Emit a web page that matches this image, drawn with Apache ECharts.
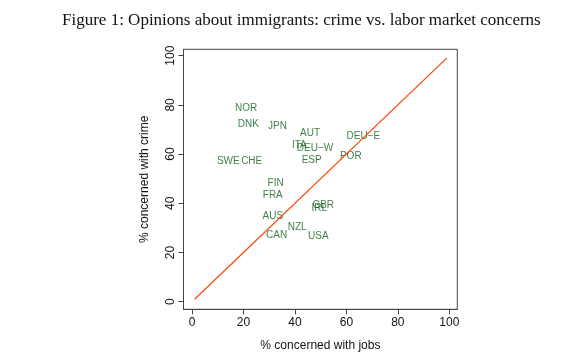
<!DOCTYPE html>
<html>
<head>
<meta charset="utf-8">
<script src="https://cdn.jsdelivr.net/npm/echarts@6/dist/echarts.min.js"></script>
<style>
html,body{margin:0;padding:0;background:#fff;}
#chart{width:568px;height:360px;}
</style>
</head>
<body>
<div id="chart"></div>
<script>
var countries = ["NOR","DNK","JPN","AUT","ITA","DEU\u2212W","DEU\u2212E","POR","ESP","SWE","CHE","FIN","FRA","GBR","IRL","AUS","NZL","CAN","USA"];
var jobs  = [21.0, 21.9, 33.2, 45.9, 41.7, 47.8, 66.6, 61.7, 46.5, 14.1, 23.2, 32.5, 31.4, 51.0, 49.5, 31.4, 40.9, 32.9, 49.1];
var crime = [78.6, 72.2, 71.4, 68.5, 63.7, 62.2, 67.1, 59.1, 57.3, 56.9, 57.2, 48.1, 43.4, 39.4, 38.0, 34.6, 30.1, 27.1, 26.7];
var diagX = [1, 99];
var diagY = [1, 99];
var ticks = [0, 20, 40, 60, 80, 100];
var titleText = "Figure 1: Opinions about immigrants: crime vs. labor market concerns";
var xName = "% concerned with jobs";
var yName = "% concerned with crime";

var pts = countries.map(function(c, i){ return {value:[jobs[i], crime[i]], name:c}; });
var diag = diagX.map(function(x, i){ return [x, diagY[i]]; });

var chart = echarts.init(document.getElementById('chart'), null, {renderer:'canvas'});
chart.setOption({
  animation:false,
  backgroundColor:'#fff',
  title:{
    text:titleText, left:57, top:7,
    textStyle:{fontFamily:'Liberation Serif', fontSize:17, fontWeight:'normal', color:'#111'}
  },
  grid:{left:183.5, right:110.7, top:49.3, bottom:50.7, show:true, borderColor:'#444', borderWidth:1, backgroundColor:'#fff'},
  xAxis:{
    type:'value', min:-3.3, max:103.1,
    name:xName, nameLocation:'middle', nameGap:30,
    nameTextStyle:{fontFamily:'Liberation Sans', fontSize:12, color:'#111'},
    axisLine:{show:true, onZero:false, lineStyle:{color:'#444', width:1}},
    axisTick:{show:true, length:5, customValues:ticks, lineStyle:{color:'#444'}},
    axisLabel:{customValues:ticks, margin:7, fontFamily:'Liberation Sans', fontSize:12, color:'#111'},
    splitLine:{show:false}
  },
  yAxis:{
    type:'value', min:-3.1, max:102.6,
    name:yName, nameLocation:'middle', nameGap:33,
    nameTextStyle:{fontFamily:'Liberation Sans', fontSize:12, color:'#111'},
    axisLine:{show:true, onZero:false, lineStyle:{color:'#444', width:1}},
    axisTick:{show:true, length:5, customValues:ticks, lineStyle:{color:'#444'}},
    axisLabel:{customValues:ticks, rotate:90, margin:7, fontFamily:'Liberation Sans', fontSize:12, color:'#111'},
    splitLine:{show:false}
  },
  series:[
    {
      type:'line', data:diag, symbol:'none', silent:true,
      lineStyle:{color:'#ff4500', width:1.2}
    },
    {
      type:'scatter', data:pts, symbolSize:1,
      itemStyle:{color:'rgba(0,0,0,0)'},
      label:{show:true, position:'inside', formatter:function(p){return p.name;},
        fontFamily:'Liberation Sans', fontSize:10, color:'#11621a'}
    }
  ]
});
</script>
</body>
</html>
